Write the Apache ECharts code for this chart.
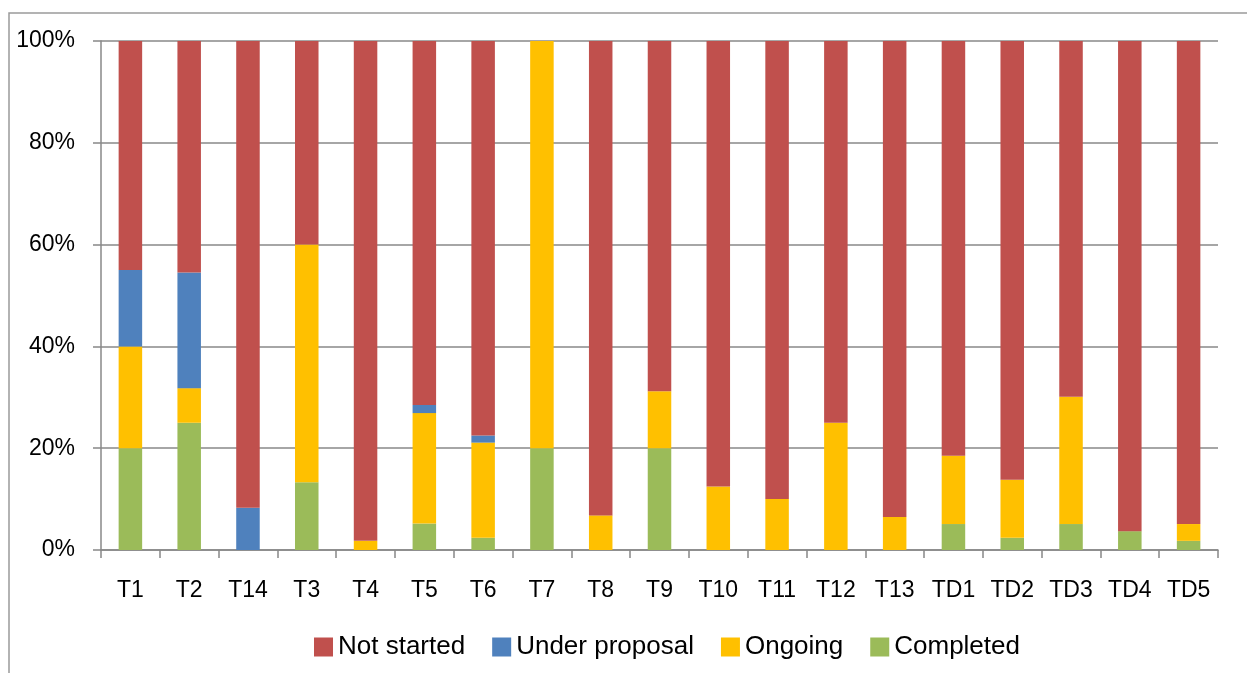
<!DOCTYPE html>
<html>
<head>
<meta charset="utf-8">
<script src="https://cdn.jsdelivr.net/npm/echarts@6/dist/echarts.min.js"></script>
<style>
  html, body { margin: 0; padding: 0; background: #fff; }
  #chart { width: 1247px; height: 673px; }
</style>
</head>
<body>
<div id="chart"></div>
<script>
// Work-package status shares (percent of tasks per package)
const categories = ['T1', 'T2', 'T14', 'T3', 'T4', 'T5', 'T6', 'T7', 'T8', 'T9', 'T10', 'T11', 'T12', 'T13', 'TD1', 'TD2', 'TD3', 'TD4', 'TD5'];
const completed     = [20, 25, 0, 13.3, 0, 5.2, 2.4, 20, 0, 20, 0, 0, 0, 0, 5.1, 2.4, 5.1, 3.7, 1.8];
const ongoing       = [20, 6.8, 0, 46.7, 1.8, 21.7, 18.7, 80, 6.8, 11.2, 12.5, 10, 25, 6.5, 13.4, 11.4, 25, 0, 3.3];
const underProposal = [15, 22.7, 8.3, 0, 0, 1.6, 1.4, 0, 0, 0, 0, 0, 0, 0, 0, 0, 0, 0, 0];
const notStarted    = [45, 45.5, 91.7, 40, 98.2, 71.5, 77.5, 0, 93.2, 68.8, 87.5, 90, 75, 93.5, 81.5, 86.2, 69.9, 96.3, 94.9];
const yTicks = [0, 20, 40, 60, 80, 100];

const FONT = "'Liberation Sans', Arial, sans-serif";
const GRID_GRAY = '#888888';

const chart = echarts.init(document.getElementById('chart'), null, { renderer: 'canvas' });

function bar(name, data, color) {
  return {
    name: name,
    type: 'bar',
    stack: 'status',
    data: data,
    barWidth: '40%',
    itemStyle: { color: color },
    emphasis: { disabled: true }
  };
}

chart.setOption({
  animation: false,
  backgroundColor: '#ffffff',
  textStyle: { fontFamily: FONT, color: '#000' },
  graphic: [{
    type: 'rect',
    shape: { x: 9, y: 13, width: 1400, height: 800 },
    style: { fill: 'none', stroke: '#9a9a9a', lineWidth: 1.5 },
    silent: true
  }],
  grid: { left: 101, right: 29, top: 41, bottom: 123, containLabel: false },
  legend: {
    data: ['Not started', 'Under proposal', 'Ongoing', 'Completed'],
    left: 314,
    top: 634,
    padding: 0,
    itemWidth: 19,
    itemHeight: 19,
    itemGap: 27,
    icon: 'rect',
    textStyle: { fontFamily: FONT, fontSize: 26, color: '#000' },
    selectedMode: false
  },
  xAxis: {
    type: 'category',
    data: categories,
    axisLine: { lineStyle: { color: GRID_GRAY, width: 1.5 } },
    axisTick: { show: true, length: 8, lineStyle: { color: GRID_GRAY, width: 1.5 } },
    axisLabel: { fontFamily: FONT, fontSize: 23, color: '#000', margin: 29, interval: 0 }
  },
  yAxis: {
    type: 'value',
    min: yTicks[0],
    max: yTicks[yTicks.length - 1],
    interval: 20,
    axisLine: { show: true, lineStyle: { color: GRID_GRAY, width: 1.5 } },
    axisTick: { show: true, length: 8, lineStyle: { color: GRID_GRAY, width: 1.5 } },
    splitLine: { show: true, lineStyle: { color: GRID_GRAY, width: 1.5 } },
    axisLabel: { fontFamily: FONT, fontSize: 23, color: '#000', margin: 26, formatter: '{value}%' }
  },
  series: [
    bar('Completed', completed, '#9BBB59'),
    bar('Ongoing', ongoing, '#FFC000'),
    bar('Under proposal', underProposal, '#4F81BD'),
    bar('Not started', notStarted, '#C0504D')
  ]
});
</script>
</body>
</html>
